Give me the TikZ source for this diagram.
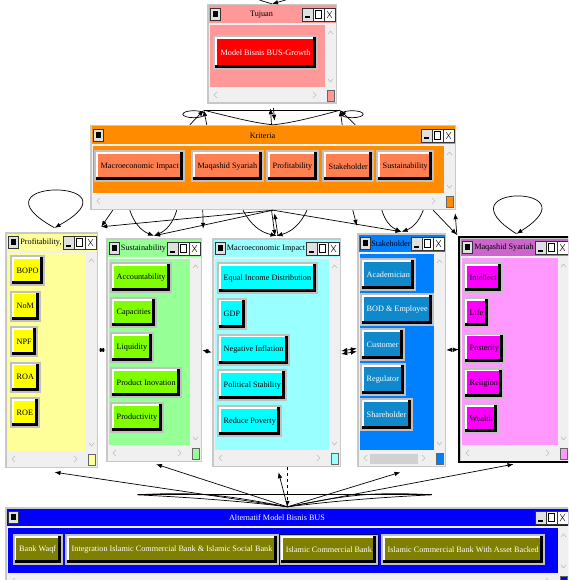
\documentclass[tikz,border=0pt]{standalone}
\usepackage{fontspec}
\setmainfont{Liberation Serif}
\usetikzlibrary{fit}
\usetikzlibrary{arrows.meta}

\definecolor{winborder}{HTML}{C8C8C8}
\definecolor{scroll}{HTML}{F0F0F0}
\definecolor{btnframe}{HTML}{C0C0C0}
\definecolor{tujuanbar}{HTML}{FF9999}
\definecolor{tujuanbtn}{HTML}{FF0000}
\definecolor{kritbar}{HTML}{FF8C00}
\definecolor{kritbtn}{HTML}{FF7F50}
\definecolor{profbar}{HTML}{FFFF99}
\definecolor{profbtn}{HTML}{FFFF00}
\definecolor{susbar}{HTML}{96FF96}
\definecolor{susbtn}{HTML}{80FF00}
\definecolor{macbar}{HTML}{99FFFF}
\definecolor{macbtn}{HTML}{00FFFF}
\definecolor{stkbar}{HTML}{0080FF}
\definecolor{stkbtn}{HTML}{1088CC}
\definecolor{maqbar}{HTML}{CC66CC}
\definecolor{maqbody}{HTML}{FF99FF}
\definecolor{pinkbtn}{RGB}{250,0,250}
\definecolor{altbar}{HTML}{0000FF}
\definecolor{altbtn}{HTML}{808000}

% cluster window: name, x1, y1, x2, y2, bar colour, body colour, title, title colour
\newcommand{\clusterwin}[9]{%
  \fill[winborder] (#2,#3) rectangle (#4,#5);
  \fill[scroll] (#2+1.5,#3+1.5) rectangle (#4-1.5,#5-1.5);
  \fill[#6] (#2+1.5,#3+1.5) rectangle (#4-1.5,#3+19);
  \fill[#7] (#2+3,#3+21) rectangle (#4-12,#5-17);
  \draw[tbtn] (#2+3,#3+4) rectangle (#2+13,#3+16);
  \fill (#2+5.5,#3+7) rectangle (#2+10.5,#3+13);
  \draw[tbtn] (#4-35,#3+4) rectangle (#4-24,#3+17);
  \draw[tbtn, fill=white] (#4-24,#3+4) rectangle (#4-13,#3+17);
  \draw[tbtn, fill=white] (#4-13,#3+4) rectangle (#4-2,#3+17);
  \fill (#4-32.5,#3+12.5) rectangle (#4-27,#3+14.5);
  \draw (#4-21.5,#3+6.5) rectangle (#4-15.5,#3+14.5);
  \draw (#4-10,#3+7) -- (#4-5,#3+14) (#4-10,#3+14) -- (#4-5,#3+7);
  \node[wintitle, text=#9] (#1-title) at ({(#2+#4)/2-10.5},#3+10.5) {#8};
  \draw[glyph] (#4-9,#3+30) -- (#4-6.5,#3+27) -- (#4-4,#3+30);
  \draw[glyph] (#4-9,#5-25) -- (#4-6.5,#5-22) -- (#4-4,#5-25);
  \draw[glyph] (#2+10,#5-12) -- (#2+7,#5-9) -- (#2+10,#5-6);
  \draw[glyph] (#4-24,#5-12) -- (#4-21,#5-9) -- (#4-24,#5-6);
  \filldraw[fill=#7, draw=black!60] (#4-10,#5-14) rectangle (#4-3,#5-3);
  \node[inner sep=0pt, fit={(#2,#3) (#4,#5)}] (#1) {};
}

\begin{document}
\begin{tikzpicture}[x=1pt, y=-1pt, >={Latex[length=6pt,width=4.5pt]},
    btn/.style={fill=btnframe, anchor=north west, minimum height=31pt,
      inner xsep=6.5pt, inner ysep=0pt, font=\fontsize{8.2}{9}\selectfont,
      path picture={
        \fill[black] ([xshift=2pt,yshift=2pt]path picture bounding box.south west)
          rectangle ([xshift=-2pt,yshift=-2pt]path picture bounding box.north east);
        \fill[white] ([xshift=2pt,yshift=5pt]path picture bounding box.south west)
          rectangle ([xshift=-5pt,yshift=-2pt]path picture bounding box.north east);
        \fill[#1] ([xshift=3.5pt,yshift=5pt]path picture bounding box.south west)
          rectangle ([xshift=-5pt,yshift=-3.5pt]path picture bounding box.north east);}},
    wintitle/.style={font=\fontsize{8.2}{9}\selectfont, inner sep=0pt},
    tbtn/.style={fill=black!12, draw=black!80, line width=0.5pt},
    glyph/.style={draw=black!25, line width=0.6pt}]

  \clip (0,0) rectangle (568,580);
  \fill[white] (0,0) rectangle (568,580);

  % windows
  \clusterwin{tujuan}{207}{4}{337}{104}{tujuanbar}{tujuanbar}{Tujuan}{black}
  \clusterwin{kriteria}{90}{125}{456}{210}{kritbar}{kritbar}{Kriteria}{black}
  \clusterwin{profit}{5}{232}{98}{468}{profbar}{profbar}{Profitability,}{black}
  \clusterwin{sustain}{106}{238}{202}{462}{susbar}{susbar}{Sustainability}{black}
  \clusterwin{macro}{212}{238}{341}{467}{macbar}{macbar}{Macroeconomic Impact}{black}
  \clusterwin{stake}{357}{233}{446}{467}{stkbar}{stkbar}{Stakeholder}{black}
  \fill[black!18] (370,454) rectangle (418,464);
  \clusterwin{maqashid}{459}{237}{570}{462}{maqbar}{maqbody}{Maqashid Syariah}{black}
  \draw[line width=1.5pt] (maqashid.north west) rectangle (maqashid.south east);
  \clusterwin{altern}{5}{507}{570}{590}{altbar}{altbar}{Alternatif Model Bisnis BUS}{white}

  % buttons
  \node[btn=tujuanbtn, text=white, minimum height=35pt, inner xsep=7.5pt] (growth) at (213,35) {Model Bisnis BUS-Growth};

  \node[btn=kritbtn, text=black, minimum height=32pt] (k-macro) at (94,150) {Macroeconomic Impact};
  \node[btn=kritbtn, text=black, minimum height=32pt] (k-maq) at (191,150) {Maqashid Syariah};
  \node[btn=kritbtn, text=black, minimum height=32pt] (k-prof) at (266,150) {Profitability};
  \node[btn=kritbtn, text=black, minimum height=32pt] (k-stake) at (322,150) {Stakeholder};
  \node[btn=kritbtn, text=black, minimum height=32pt] (k-sus) at (376,150) {Sustainability};

  \foreach \t [count=\i from 0] in {BOPO,NoM,NPF,ROA,ROE}
    \node[btn=profbtn, text=black] (prof-\i) at (10,255+35.5*\i) {\t};
  \foreach \t [count=\i from 0] in {Accountability,Capacities,Liquidity,Product Inovation,Productivity}
    \node[btn=susbtn, text=black] (sus-\i) at (110,262+35*\i) {\t};
  \foreach \t [count=\i from 0] in {Equal Income Distribution,GDP,Negative Inflation,Political Stability,Reduce Poverty}
    \node[btn=macbtn, text=black, minimum height=32pt] (mac-\i) at (217,262+35.75*\i) {\t};
  \foreach \t [count=\i from 0] in {Academician,BOD \& Employee,Customer,Regulator,Shareholder}
    \node[btn=stkbtn, text=white, minimum height=33pt] (stk-\i) at (360,258+35*\i) {\t};
  \foreach \t [count=\i from 0] in {Intellect,Life,Posterity,Religion,Wealth}
    \node[btn=pinkbtn, text=black] (maq-\i) at (463,262+35.25*\i) {\t};

  \node[btn=altbtn, text=white] (alt-waqf) at (12.5,534) {Bank Waqf};
  \node[btn=altbtn, text=white] (alt-integ) at (65,534) {Integration Islamic Commercial Bank \& Islamic Social Bank};
  \node[btn=altbtn, text=white, draw=blue!40!black, line width=0.6pt] (alt-icb) at (279,534) {Islamic Commercial Bank};
  \node[btn=altbtn, text=white] (alt-asset) at (381,534) {Islamic Commercial Bank With Asset Backed};

  % connections
  \begin{scope}[line width=0.7pt]
    % goal
    \draw[->] (tujuan.north) .. controls +(-75,-20) and +(75,-20) .. (tujuan.north);
    \coordinate (tl) at ([shift={(-3,6)}]tujuan.south west);
    \coordinate (tr) at ([shift={(3,6)}]tujuan.south east);
    \draw (tl) -- (tr);
    \draw[->] ([xshift=100pt]kriteria.north west) -- (tl);
    \draw[->] ([xshift=117pt]kriteria.north west) -- (tl);
    \draw[->] ([xshift=-114pt]kriteria.north east) -- (tr);
    \draw[->] ([xshift=-101pt]kriteria.north east) -- (tr);
    \draw (tl) .. controls (235,118) and (255,123) .. (kriteria.north)
      .. controls (291,123) and (311,118) .. (tr);
    \draw ([shift={(-10,4)}]tl) ellipse [x radius=11, y radius=3.5];
    \draw ([shift={(12,4)}]tr) ellipse [x radius=11, y radius=3.5];
    \draw[->] ([xshift=-1.5pt]kriteria.north) -- ([xshift=-1.5pt,yshift=-4pt]tujuan.south);
    \draw[->] ([xshift=1.5pt,yshift=-4pt]tujuan.south) -- ([xshift=1.5pt,yshift=4pt]kriteria.north);

    % criteria to clusters
    \draw[->] (kriteria.south) -- ([shift={(3,-5)}]profit.north east);
    \draw[->] ([xshift=23pt]kriteria.south west) -- ([shift={(3,-5)}]profit.north east);
    \draw[->] ([shift={(3,-4)}]profit.north) .. controls +(-90,-50) and +(90,-50) .. ([shift={(3,-4)}]profit.north);
    \draw[->] ([xshift=40pt]kriteria.south west) to[bend right=25] ([yshift=2pt]sustain.north);
    \draw[->] ([xshift=87pt]kriteria.south west) to[bend left=25] ([yshift=2pt]sustain.north);
    \draw[->] (kriteria.south) -- ([yshift=2pt]sustain.north);
    \draw[->] ([xshift=113pt]kriteria.south west) -- ([shift={(1,-9)}]sustain.north east);
    \draw[->] ([xshift=-1.5pt]kriteria.south) -- ([xshift=-1.5pt,yshift=2pt]macro.north);
    \draw[->] ([xshift=1.5pt,yshift=2pt]macro.north) -- ([xshift=1.5pt,yshift=-3pt]kriteria.south);
    \draw[->] ([xshift=-30pt]kriteria.south) to[bend right=25] ([yshift=2pt]macro.north);
    \draw[->] ([xshift=34pt]kriteria.south) to[bend left=25] ([yshift=2pt]macro.north);
    \draw[->] (kriteria.south) -- ([yshift=1pt]stake.north);
    \draw[->] ([xshift=292pt]kriteria.south west) to[bend right=25] ([yshift=1pt]stake.north);
    \draw[->] ([xshift=-33pt]kriteria.south east) to[bend left=25] ([yshift=1pt]stake.north);
    \draw[->] ([xshift=263pt]kriteria.south west) -- ([shift={(0,-7)}]stake.north west);
    \draw[->] ([xshift=-23pt]kriteria.south east) -- ([shift={(-2,-2)}]maqashid.north west);
    \draw[->] ([shift={(-2,-2)}]maqashid.north west) -- ([shift={(-1,3)}]kriteria.south east);
    \draw[->] ([shift={(2,-3)}]maqashid.north) .. controls +(-80,-50) and +(80,-50) .. ([shift={(2,-3)}]maqashid.north);

    % neighbours
    \draw[<->] (profit.east) -- (sustain.west);
    \draw[<->] (sustain.east) -- (macro.west);
    \draw[<->] ([yshift=1.5pt]macro.east) -- ([yshift=1.5pt]stake.west);
    \draw[<->] ([yshift=-1.5pt]macro.east) -- ([yshift=-1.5pt]stake.west);
    \draw[<->] (stake.east) -- (maqashid.west);

    % alternatives
    \draw[->] (altern.north) -- ([shift={(3,4)}]profit.south);
    \draw[->] (altern.north) -- ([shift={(2,2)}]sustain.south);
    \draw[->] (altern.north) -- ([shift={(2,5)}]macro.south);
    \draw[->, dashed, line width=1.2pt] ([xshift=11pt]macro.south) -- (altern.north);
    \draw[->] (altern.north) -- ([shift={(-1,5)}]stake.south);
    \draw[->] (altern.north) -- ([shift={(-1,2)}]maqashid.south);
    \coordinate (ll) at ([shift={(-150,-12)}]altern.north);
    \coordinate (lr) at ([shift={(144,-12)}]altern.north);
    \draw (ll) -- (lr);
    \draw (ll) .. controls +(60,3) and +(-40,-5) .. (altern.north)
      .. controls +(40,-5) and +(-60,3) .. (lr);
    \draw (ll) .. controls +(70,-4) and +(-50,-9) .. (altern.north)
      .. controls +(50,-9) and +(-70,-4) .. (lr);
  \end{scope}
\end{tikzpicture}
\end{document}
